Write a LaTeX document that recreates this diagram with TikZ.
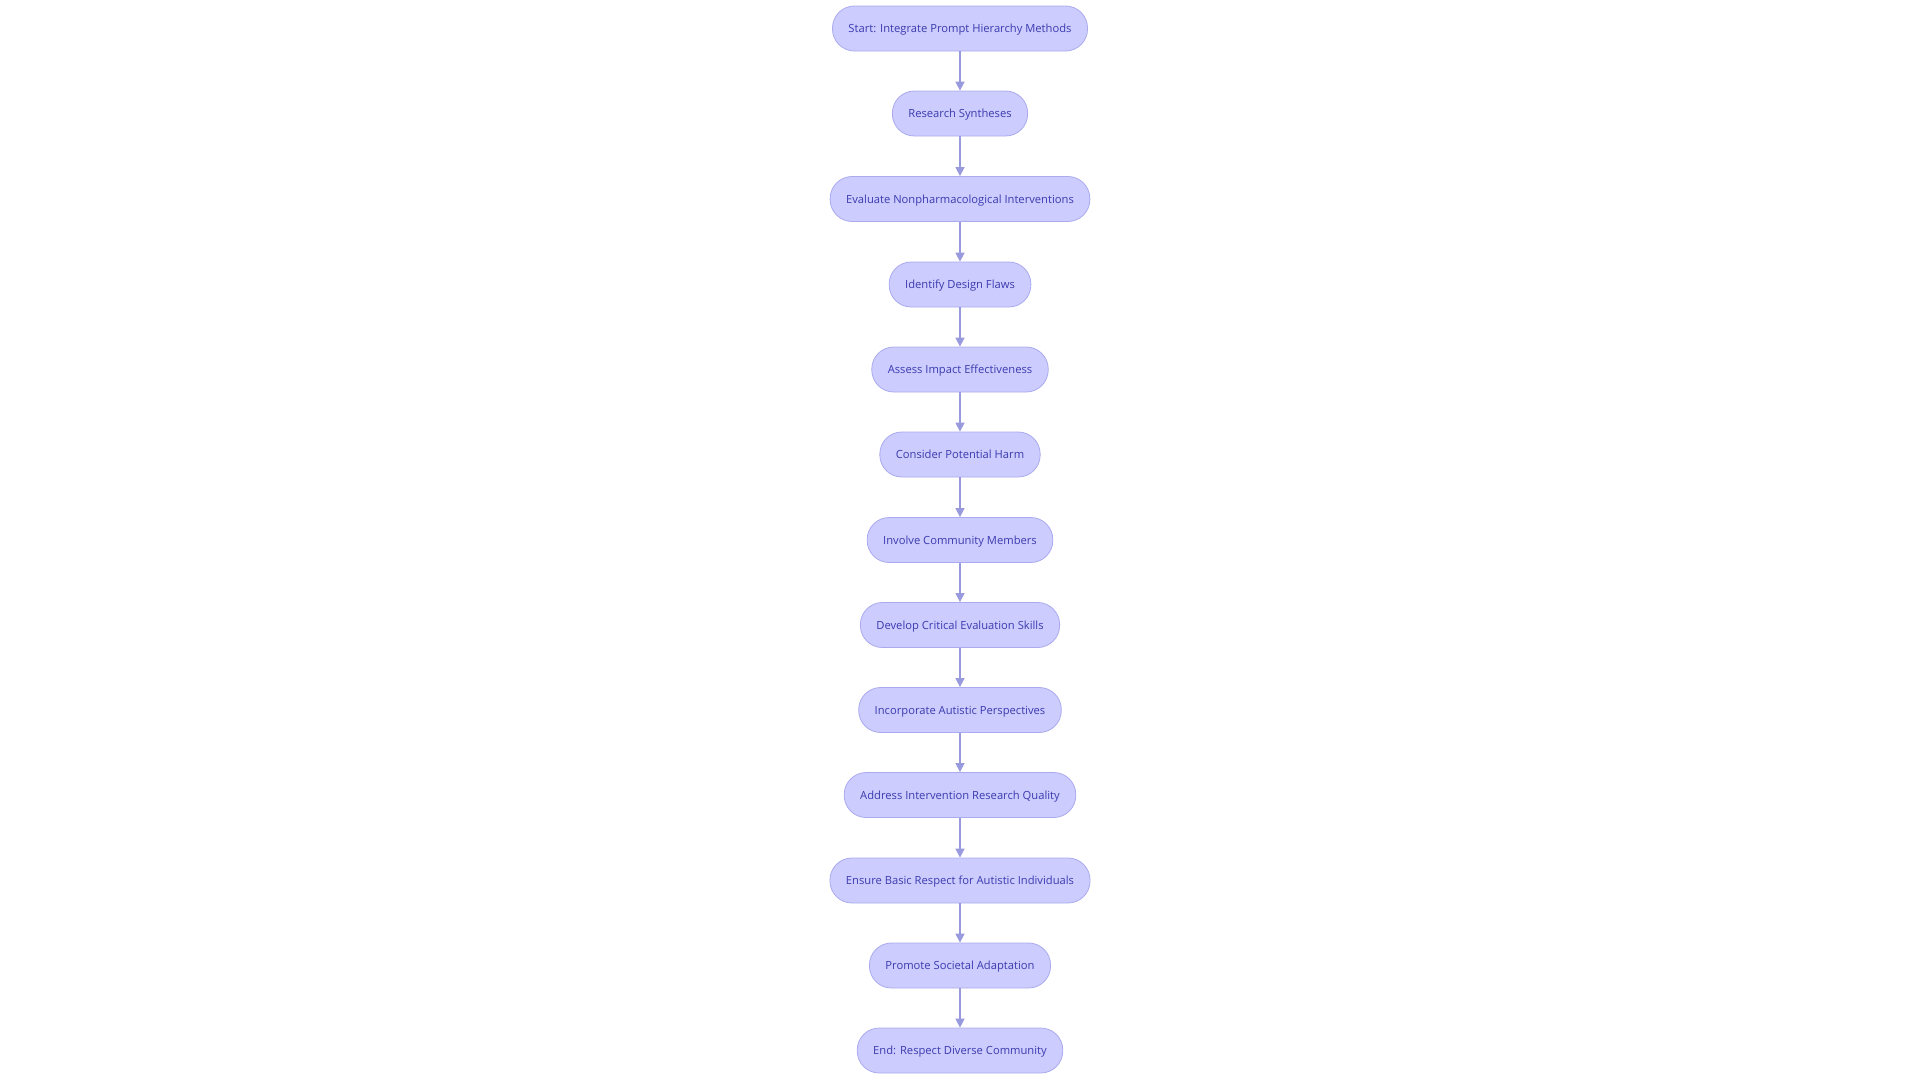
\documentclass[tikz,border=0pt]{standalone}
\usepackage{fontspec}
\setmainfont{Open Sans}
\usetikzlibrary{arrows.meta}
\definecolor{boxfill}{HTML}{CCCCFF}
\definecolor{boxline}{HTML}{AAAAEE}
\definecolor{boxtext}{HTML}{3B3BAF}
\definecolor{arrowline}{HTML}{9999DD}
\begin{document}
\begin{tikzpicture}[x=1pt,y=1pt]
\tikzstyle{step box}=[draw=boxline, fill=boxfill, text=boxtext, rounded corners=22pt,
  minimum height=45pt, inner xsep=16pt, text height=9.5pt, text depth=1.5pt,
  font=\fontsize{11.2}{14}\selectfont, line width=0.8pt]
\tikzstyle{flow}=[draw=arrowline, line width=1.5pt, -{Triangle[length=9pt,width=9pt]}]
\useasboundingbox (0,0) rectangle (1920,-1080);
    \node [step box] (a) at (960,-28.5) {Start: Integrate Prompt Hierarchy Methods};
    \node [step box] (b) at (960,-113.5) {Research Syntheses};
    \node [step box] (c) at (960,-199) {Evaluate Nonpharmacological Interventions};
    \node [step box] (d) at (960,-284.5) {Identify Design Flaws};
    \node [step box] (e) at (960,-369.5) {Assess Impact Effectiveness};
    \node [step box] (f) at (960,-454.5) {Consider Potential Harm};
    \node [step box] (g) at (960,-540) {Involve Community Members};
    \node [step box] (h) at (960,-625) {Develop Critical Evaluation Skills};
    \node [step box] (i) at (960,-710) {Incorporate Autistic Perspectives};
    \node [step box] (j) at (960,-795) {Address Intervention Research Quality};
    \node [step box] (k) at (960,-880.5) {Ensure Basic Respect for Autistic Individuals};
    \node [step box] (l) at (960,-965.5) {Promote Societal Adaptation};
    \node [step box] (m) at (960,-1050.5) {End: Respect Diverse Community};
    \draw [flow] (a) to (b);
    \draw [flow] (b) to (c);
    \draw [flow] (c) to (d);
    \draw [flow] (d) to (e);
    \draw [flow] (e) to (f);
    \draw [flow] (f) to (g);
    \draw [flow] (g) to (h);
    \draw [flow] (h) to (i);
    \draw [flow] (i) to (j);
    \draw [flow] (j) to (k);
    \draw [flow] (k) to (l);
    \draw [flow] (l) to (m);
\end{tikzpicture}
\end{document}
